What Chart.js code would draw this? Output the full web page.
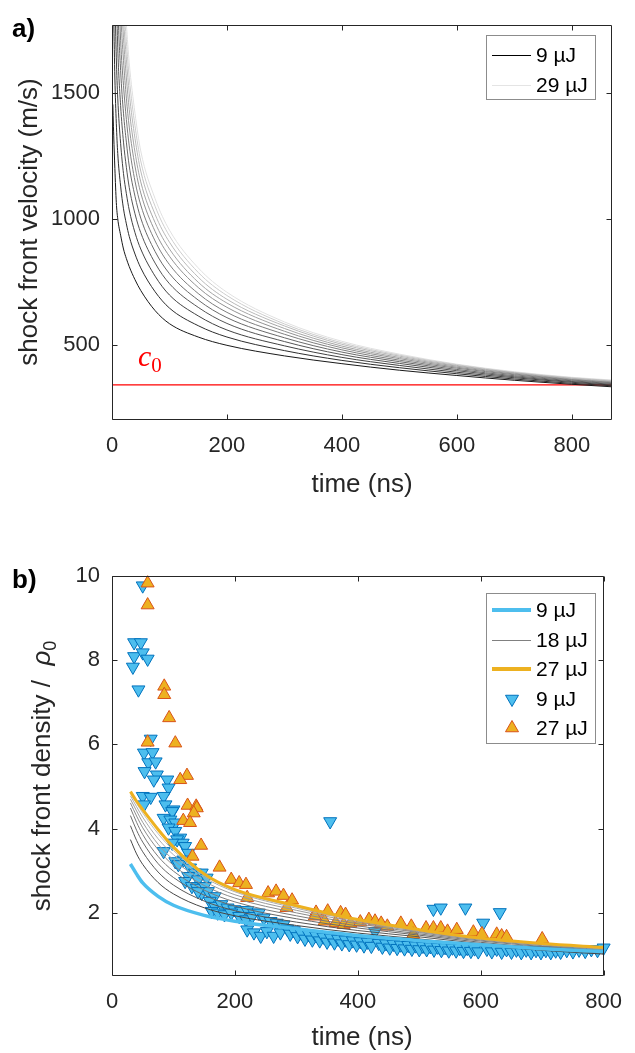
<!DOCTYPE html>
<html>
<head>
<meta charset="utf-8">
<script src="https://cdn.jsdelivr.net/npm/chart.js@4.4.1/dist/chart.umd.min.js"></script>
<style>
  body { margin: 0; background: #fff; }
  .panel { position: absolute; left: 0; }
  canvas { display: block; }
</style>
</head>
<body>
<div class="panel" style="top:0"><canvas id="velChart" width="635" height="530"></canvas></div>
<div class="panel" style="top:530px"><canvas id="densChart" width="635" height="523"></canvas></div>
<script>
// ---- panel a) shock front velocity, model curves 9..29 uJ (2 uJ steps)
const velTime = [1.5, 2, 3, 5, 7.5, 10, 15, 20, 25, 30, 40, 50, 75, 100, 150, 200, 300, 400, 500, 600, 700, 800, 870];
const vel9  = [1455, 1410, 1330, 1200, 1065, 1000, 935, 880, 842, 810, 758, 715, 635, 583, 530, 497, 455, 424, 398, 377, 358, 342, 332];
const vel11 = [null, null, 1800, 1560, 1380, 1260, 1130, 1040, 980, 930, 860, 805, 710, 645, 575, 530, 476, 437, 408, 384, 363, 346, 336];
const vel13 = [null, null, null, 1880, 1640, 1480, 1300, 1180, 1100, 1035, 945, 880, 772, 697, 614, 558, 495, 449, 417, 390, 368, 350, 339];
const vel15 = [null, null, null, 2250, 1920, 1680, 1450, 1305, 1205, 1125, 1020, 945, 824, 742, 648, 584, 512, 460, 425, 396, 372, 353, 342];
const vel17 = [null, null, null, null, 2150, 1860, 1590, 1420, 1305, 1210, 1090, 1003, 870, 782, 677, 607, 527, 470, 432, 401, 376, 356, 345];
const vel19 = [null, null, null, null, null, 2030, 1710, 1530, 1395, 1290, 1150, 1055, 912, 818, 703, 628, 541, 479, 438, 406, 380, 359, 348];
const vel21 = [null, null, null, null, null, 2190, 1830, 1630, 1480, 1365, 1210, 1103, 950, 851, 727, 648, 553, 487, 444, 410, 383, 361, 350];
const vel23 = [null, null, null, null, null, 2350, 1940, 1720, 1560, 1435, 1265, 1147, 985, 880, 748, 665, 564, 494, 449, 414, 386, 363, 352];
const vel25 = [null, null, null, null, null, null, 2040, 1800, 1635, 1500, 1320, 1190, 1018, 907, 768, 680, 574, 501, 454, 417, 388, 366, 355];
const vel27 = [null, null, null, null, null, null, 2140, 1880, 1705, 1560, 1370, 1230, 1050, 932, 787, 695, 582, 507, 458, 420, 390, 368, 357];
const vel29 = [null, null, null, null, null, null, 2230, 1950, 1775, 1620, 1420, 1270, 1080, 955, 805, 708, 590, 513, 462, 422, 392, 370, 359];
const soundSpeed = 340;
const velTicksY = [500, 1000, 1500];
const timeTicks = [0, 200, 400, 600, 800];

// ---- panel b) shock front density, fits 9..27 uJ
const fitTime = [30, 40, 50, 75, 100, 150, 200, 300, 400, 500, 600, 700, 800];
const fit9  = [3.16, 2.92, 2.71, 2.39, 2.18, 1.94, 1.80, 1.62, 1.46, 1.34, 1.24, 1.15, 1.08];
const fit11 = [3.74, 3.40, 3.15, 2.72, 2.45, 2.12, 1.93, 1.70, 1.52, 1.38, 1.23, 1.11, 1.02];
const fit13 = [4.07, 3.72, 3.45, 2.97, 2.66, 2.28, 2.05, 1.78, 1.58, 1.43, 1.27, 1.14, 1.04];
const fit15 = [4.31, 3.96, 3.68, 3.17, 2.84, 2.42, 2.16, 1.86, 1.64, 1.47, 1.30, 1.17, 1.07];
const fit17 = [4.49, 4.15, 3.86, 3.34, 2.99, 2.54, 2.26, 1.93, 1.69, 1.50, 1.33, 1.20, 1.09];
const fit19 = [4.61, 4.30, 4.02, 3.50, 3.13, 2.65, 2.35, 2.00, 1.74, 1.53, 1.35, 1.22, 1.11];
const fit21 = [4.70, 4.42, 4.15, 3.63, 3.26, 2.75, 2.43, 2.06, 1.78, 1.55, 1.37, 1.24, 1.13];
const fit23 = [4.78, 4.52, 4.27, 3.76, 3.38, 2.84, 2.50, 2.11, 1.81, 1.57, 1.38, 1.25, 1.15];
const fit25 = [4.84, 4.60, 4.37, 3.88, 3.48, 2.89, 2.53, 2.14, 1.83, 1.58, 1.39, 1.26, 1.16];
const fit27 = [4.88, 4.65, 4.45, 3.98, 3.56, 2.92, 2.55, 2.17, 1.84, 1.60, 1.40, 1.27, 1.18];

// measured points, 9 uJ (down triangles)
const meas9Time = [50, 36, 47, 36, 50, 58, 34, 43, 63, 52, 66, 59, 71, 53, 73, 68, 90, 92, 50, 63,
  84, 87, 100, 52, 98, 84, 95, 103, 92, 103, 111, 106, 115, 98, 84, 119, 124, 116, 103, 108,
  127, 135, 124, 146, 140, 154, 119, 130, 138, 151, 146, 156, 167, 140, 159, 167, 178, 188, 199, 210,
  220, 231, 162, 172, 183, 194, 207, 218, 228, 239, 247, 258, 268, 279, 220, 231, 242, 252, 263, 274,
  285, 290, 296, 302, 308, 314, 320, 326, 332, 338, 344, 350, 356, 362, 368, 374, 380, 386, 392, 398,
  404, 410, 416, 422, 434, 440, 446, 452, 458, 464, 470, 476, 482, 488, 494, 500, 506, 512, 518, 524,
  530, 536, 542, 548, 554, 560, 566, 572, 578, 584, 590, 596, 610, 618, 626, 634, 642, 650, 658, 666,
  674, 682, 690, 698, 706, 714, 722, 730, 740, 750, 760, 770, 780, 790, 800,
  355, 523, 535, 575, 604, 631, 428];
const meas9Dens = [9.77, 8.42, 8.42, 8.09, 8.18, 8.03, 7.84, 7.30, 6.13, 5.80, 5.81, 5.57, 5.59, 5.36, 5.28, 5.16, 5.16, 4.97, 4.77, 4.75,
  4.77, 4.57, 4.45, 4.57, 4.41, 4.25, 4.21, 4.14, 4.02, 3.94, 3.78, 3.74, 3.66, 3.66, 3.46, 3.58, 3.42, 3.26, 3.22, 3.15,
  3.07, 2.95, 2.87, 2.95, 2.79, 2.83, 2.75, 2.63, 2.59, 2.63, 2.47, 2.51, 2.39, 2.51, 2.28, 2.16, 2.20, 2.12, 2.08, 2.04,
  2.06, 2.00, 2.04, 2.00, 1.96, 2.00, 1.92, 1.84, 1.92, 2.00, 1.88, 1.80, 1.76, 1.72, 1.60, 1.53, 1.45, 1.56, 1.45, 1.53,
  1.62, 1.50, 1.58, 1.44, 1.52, 1.38, 1.49, 1.36, 1.46, 1.34, 1.43, 1.31, 1.41, 1.29, 1.38, 1.27, 1.36, 1.25, 1.34, 1.24,
  1.32, 1.22, 1.31, 1.21, 1.28, 1.19, 1.27, 1.17, 1.26, 1.16, 1.24, 1.15, 1.23, 1.14, 1.22, 1.13, 1.21, 1.13, 1.20, 1.12,
  1.19, 1.11, 1.18, 1.10, 1.17, 1.10, 1.16, 1.09, 1.16, 1.09, 1.15, 1.08, 1.14, 1.08, 1.14, 1.07, 1.13, 1.07, 1.12, 1.06,
  1.12, 1.06, 1.11, 1.06, 1.11, 1.06, 1.10, 1.07, 1.11, 1.08, 1.12, 1.09, 1.13, 1.11, 1.17,
  4.17, 2.09, 2.12, 2.12, 1.76, 2.01, 1.56];

// measured points, 27 uJ (up triangles)
const meas27Time = [58, 58, 85, 85, 93, 103, 58, 122, 111, 123, 137, 138, 133, 116, 127, 145, 131, 175, 194, 207,
  218, 220, 254, 267, 279, 284, 293, 332, 351, 372, 380, 330, 346, 364, 377, 388, 404, 418, 428, 438,
  448, 470, 487, 490, 511, 523, 535, 546, 561, 588, 602, 626, 634, 642, 700];
const meas27Dens = [9.83, 9.31, 7.38, 7.18, 6.63, 6.03, 6.05, 5.26, 5.16, 4.55, 4.53, 4.49, 4.37, 4.19, 4.14, 3.60, 3.34, 3.08, 2.79, 2.71,
  2.67, 2.36, 2.47, 2.51, 2.41, 2.12, 2.30, 2.01, 2.04, 2.00, 1.96, 1.92, 1.80, 1.76, 1.72, 1.75, 1.78, 1.84, 1.80, 1.75,
  1.68, 1.75, 1.68, 1.49, 1.64, 1.64, 1.64, 1.56, 1.60, 1.54, 1.50, 1.49, 1.45, 1.43, 1.38];
const densTicksY = [2, 4, 6, 8, 10];

// ---- styling
const sans = '"Liberation Sans", Arial, Helvetica, sans-serif';
const serif = '"Liberation Serif", "Times New Roman", serif';
const axisColor = '#262626';
const blue = '#4DBEEE', blueEdge = '#0072BD';
const orange = '#EDB120', orangeEdge = '#D95319';

function pairs(xs, ys) {
  const out = [];
  xs.forEach((x, i) => { if (ys[i] != null) out.push({ x: x, y: ys[i] }); });
  return out;
}

// box, inward ticks, legend and free text (MATLAB look)
const decor = {
  id: 'decor',
  afterDatasetsDraw(chart) {
    const o = chart.options.plugins.decor;
    const { ctx, chartArea: a } = chart;
    const xs = chart.scales.x, ys = chart.scales.y;
    ctx.save();
    ctx.strokeStyle = axisColor;
    ctx.lineWidth = 1;
    const L = Math.round(a.left) + 0.5, R = Math.round(a.right) - 0.5;
    const T = Math.round(a.top) + 0.5, B = Math.round(a.bottom) - 0.5;
    ctx.beginPath();
    ctx.rect(L, T, R - L, B - T);
    xs.ticks.forEach(t => {
      const p = Math.round(xs.getPixelForValue(t.value)) + 0.5;
      ctx.moveTo(p, B); ctx.lineTo(p, B - 5);
      ctx.moveTo(p, T); ctx.lineTo(p, T + 5);
    });
    ys.ticks.forEach(t => {
      const p = Math.round(ys.getPixelForValue(t.value)) + 0.5;
      ctx.moveTo(L, p); ctx.lineTo(L + 5, p);
      ctx.moveTo(R, p); ctx.lineTo(R - 5, p);
    });
    ctx.stroke();

    // legend
    const lg = o.legend;
    ctx.fillStyle = '#fff';
    ctx.fillRect(lg.x1, lg.y1, lg.x2 - lg.x1, lg.y2 - lg.y1);
    ctx.strokeStyle = '#8c8c8c';
    ctx.strokeRect(lg.x1 + 0.5, lg.y1 + 0.5, lg.x2 - lg.x1 - 1, lg.y2 - lg.y1 - 1);
    ctx.font = '21px ' + sans;
    ctx.textBaseline = 'middle';
    ctx.textAlign = 'left';
    lg.rows.forEach(r => {
      if (r.marker) {
        ctx.fillStyle = r.fill;
        ctx.strokeStyle = r.edge;
        ctx.lineWidth = 1;
        Chart.helpers.drawPoint(ctx, { pointStyle: 'triangle', radius: 7.5, rotation: r.rotation, borderWidth: 1 }, 512, r.y);
      } else {
        // odd widths sit on a half pixel so thin lines stay crisp
        const ly = r.width % 2 === 1 ? r.y + 0.5 : r.y;
        ctx.strokeStyle = r.color;
        ctx.lineWidth = r.width;
        ctx.beginPath();
        ctx.moveTo(492, ly); ctx.lineTo(531, ly);
        ctx.stroke();
      }
      ctx.fillStyle = '#000';
      ctx.fillText(r.label, 536, r.y + 1);
    });

    // texts made of runs (for subscripts)
    o.texts.forEach(t => {
      ctx.save();
      ctx.translate(t.x, t.y);
      if (t.rotate) ctx.rotate(t.rotate);
      ctx.textBaseline = 'alphabetic';
      ctx.textAlign = 'left';
      let w = 0;
      t.runs.forEach(r => { ctx.font = r.font; w += ctx.measureText(r.text).width; });
      let cx = t.align === 'left' ? 0 : -w / 2;
      t.runs.forEach(r => {
        ctx.font = r.font;
        ctx.fillStyle = t.color || axisColor;
        ctx.fillText(r.text, cx, r.dy || 0);
        cx += ctx.measureText(r.text).width;
      });
      ctx.restore();
    });
    ctx.restore();
  }
};

function axes(xMax, yMin, yMax, yTicks, xAxisHeight) {
  const tickFont = { family: sans, size: 22 };
  return {
    x: {
      type: 'linear', min: 0, max: xMax,
      afterBuildTicks: s => { s.ticks = timeTicks.map(v => ({ value: v })); },
      afterFit: s => { s.height = xAxisHeight; },
      grid: { display: false, drawTicks: false },
      border: { display: false },
      ticks: { font: tickFont, color: axisColor, padding: 13, maxRotation: 0, autoSkip: false, callback: v => String(v) }
    },
    y: {
      type: 'linear', min: yMin, max: yMax,
      afterBuildTicks: s => { s.ticks = yTicks.map(v => ({ value: v })); },
      afterFit: s => { s.width = 112; },
      grid: { display: false, drawTicks: false },
      border: { display: false },
      ticks: { font: tickFont, color: axisColor, padding: 12, autoSkip: false, callback: v => String(v) }
    }
  };
}

// ---- chart a)
const velSeries = [vel9, vel11, vel13, vel15, vel17, vel19, vel21, vel23, vel25, vel27, vel29];
const velSets = velSeries.map((vals, k) => {
  const g = 25 + k * 20;
  return {
    data: pairs(velTime, vals), showLine: true, pointRadius: 0,
    borderColor: `rgb(${g},${g},${g})`, borderWidth: 1,
    cubicInterpolationMode: 'monotone', order: k + 1
  };
});
velSets.push({
  data: [{ x: 0, y: soundSpeed }, { x: 870, y: soundSpeed }], showLine: true, pointRadius: 0,
  borderColor: '#ff0000', borderWidth: 1.2, order: 30
});

new Chart(document.getElementById('velChart'), {
  type: 'scatter',
  data: { datasets: velSets },
  options: {
    responsive: false, animation: false,
    layout: { padding: { top: 18, right: 23, left: 0, bottom: 0 }, autoPadding: false },
    scales: axes(870, 200, 1770, velTicksY, 110),
    plugins: {
      legend: { display: false }, tooltip: { enabled: false },
      decor: {
        legend: {
          x1: 486, y1: 35, x2: 596, y2: 100,
          rows: [
            { label: '9 µJ', color: '#000', width: 1, y: 55 },
            { label: '29 µJ', color: 'rgb(228,228,228)', width: 1, y: 85 }
          ]
        },
        texts: [
          { x: 12, y: 37, align: 'left', color: '#000', runs: [{ text: 'a)', font: 'bold 26px ' + sans }] },
          { x: 37, y: 222, rotate: -Math.PI / 2, runs: [{ text: 'shock front velocity (m/s)', font: '26px ' + sans }] },
          { x: 362, y: 492, runs: [{ text: 'time (ns)', font: '26px ' + sans }] },
          { x: 138, y: 366, align: 'left', color: '#ff0000', runs: [
            { text: 'c', font: 'italic 30px ' + serif },
            { text: '0', font: '21px ' + serif, dy: 5.5 }
          ] }
        ]
      }
    }
  },
  plugins: [decor]
});

// ---- chart b)
const grayFits = [fit11, fit13, fit15, fit17, fit19, fit21, fit23, fit25];
const densSets = [
  { data: pairs(fitTime, fit9), showLine: true, pointRadius: 0, borderColor: blue, borderWidth: 3.5, cubicInterpolationMode: 'monotone', order: 1 },
  { data: pairs(fitTime, fit27), showLine: true, pointRadius: 0, borderColor: orange, borderWidth: 3, cubicInterpolationMode: 'monotone', order: 0 }
];
grayFits.forEach((vals, i) => {
  const g = 70 + i * 17;
  densSets.push({ data: pairs(fitTime, vals), showLine: true, pointRadius: 0, borderColor: `rgb(${g},${g},${g})`, borderWidth: 1, cubicInterpolationMode: 'monotone', order: 2 + i });
});
densSets.push({
  data: pairs(meas27Time, meas27Dens), pointStyle: 'triangle', pointRadius: 7.5, rotation: 0,
  backgroundColor: orange, borderColor: orangeEdge, borderWidth: 1, clip: false, order: 20
});
densSets.push({
  data: pairs(meas9Time, meas9Dens), pointStyle: 'triangle', pointRadius: 7.5, rotation: 180,
  backgroundColor: blue, borderColor: blueEdge, borderWidth: 1, clip: false, order: 21
});

new Chart(document.getElementById('densChart'), {
  type: 'scatter',
  data: { datasets: densSets },
  options: {
    responsive: false, animation: false,
    layout: { padding: { top: 46, right: 23, left: 0, bottom: 0 }, autoPadding: false },
    scales: axes(800, 0.5, 10, densTicksY, 77),
    plugins: {
      legend: { display: false }, tooltip: { enabled: false },
      decor: {
        legend: {
          x1: 486, y1: 63, x2: 596, y2: 214,
          rows: [
            { label: '9 µJ', color: blue, width: 4, y: 80 },
            { label: '18 µJ', color: '#808080', width: 1, y: 110 },
            { label: '27 µJ', color: orange, width: 4, y: 139 },
            { label: '9 µJ', marker: true, fill: blue, edge: blueEdge, rotation: 180, y: 169 },
            { label: '27 µJ', marker: true, fill: orange, edge: orangeEdge, rotation: 0, y: 198 }
          ]
        },
        texts: [
          { x: 12, y: 58, align: 'left', color: '#000', runs: [{ text: 'b)', font: 'bold 26px ' + sans }] },
          { x: 50, y: 246, rotate: -Math.PI / 2, runs: [
            { text: 'shock front density /  ', font: '26px ' + sans },
            { text: 'ρ', font: 'italic 26px ' + sans },
            { text: '0', font: '18px ' + sans, dy: 6 }
          ] },
          { x: 362, y: 515, runs: [{ text: 'time (ns)', font: '26px ' + sans }] }
        ]
      }
    }
  },
  plugins: [decor]
});
</script>
</body>
</html>
